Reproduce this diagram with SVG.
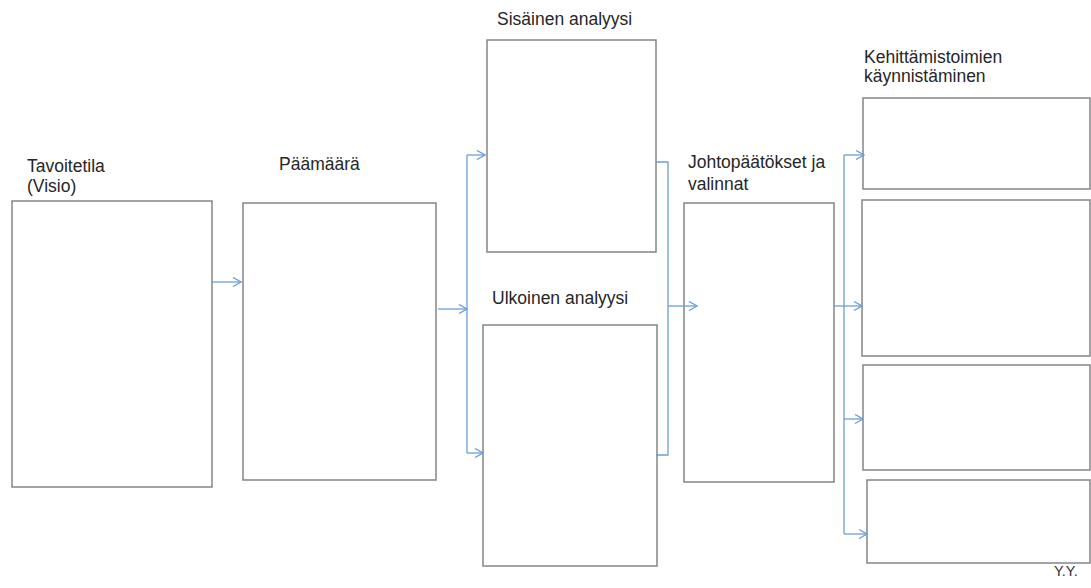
<svg xmlns="http://www.w3.org/2000/svg" width="1091" height="588" viewBox="0 0 1091 588">
<style>
.box{fill:#fff;stroke:#858585;stroke-width:1.5}
.lbl{font-family:"Liberation Sans",Arial,sans-serif;font-size:17.5px;fill:#262626}
.sm{font-family:"Liberation Sans",Arial,sans-serif;font-size:14.5px;fill:#333}
.con{fill:none;stroke:#6a9fd6;stroke-width:1.3}
</style>
<defs>
<marker id="arr" viewBox="0 0 10 10" refX="9" refY="5" markerWidth="10" markerHeight="10" markerUnits="userSpaceOnUse" orient="auto">
<path d="M1,0.5 L9,5 L1,9.5" fill="none" stroke="#6a9fd6" stroke-width="1.3"/>
</marker>
</defs>
<rect width="1091" height="588" fill="#fff"/>
<g id="tavoitetila">
<rect class="box" x="12" y="201" width="200" height="286"/>
<text class="lbl" x="27" y="172">Tavoitetila</text>
<text class="lbl" x="27" y="192">(Visio)</text>
</g>
<g id="paamaara">
<rect class="box" x="243" y="203" width="193" height="277"/>
<text class="lbl" x="279" y="170">Päämäärä</text>
</g>
<g id="sisainen">
<rect class="box" x="487" y="40" width="169" height="212"/>
<text class="lbl" x="497" y="25">Sisäinen analyysi</text>
</g>
<g id="ulkoinen">
<rect class="box" x="483" y="325" width="174" height="241"/>
<text class="lbl" x="492" y="304">Ulkoinen analyysi</text>
</g>
<g id="johtopaatokset">
<rect class="box" x="684" y="203" width="150" height="279"/>
<text class="lbl" x="688" y="168">Johtopäätökset ja</text>
<text class="lbl" x="688" y="190">valinnat</text>
</g>
<g id="kehittamistoimet">
<text class="lbl" x="864" y="63">Kehittämistoimien</text>
<text class="lbl" x="864" y="82">käynnistäminen</text>
</g>
<g id="kehitys1"><rect class="box" x="863" y="98" width="227" height="91"/></g>
<g id="kehitys2"><rect class="box" x="862" y="200" width="228" height="156"/></g>
<g id="kehitys3"><rect class="box" x="863" y="365" width="227" height="105"/></g>
<g id="kehitys4"><rect class="box" x="867" y="480" width="223" height="83"/></g>
<g id="connectors">
<path class="con" d="M212,282 H241" marker-end="url(#arr)"/>
<path class="con" d="M438,309 H467" marker-end="url(#arr)"/>
<path class="con" d="M467,155 V453"/>
<path class="con" d="M467,155 H485" marker-end="url(#arr)"/>
<path class="con" d="M467,453 H483" marker-end="url(#arr)"/>
<path class="con" d="M656,162 H668 V455 H656"/>
<path class="con" d="M668,306 H697" marker-end="url(#arr)"/>
<path class="con" d="M834,306 H862" marker-end="url(#arr)"/>
<path class="con" d="M844,155 V534"/>
<path class="con" d="M844,155 H864" marker-end="url(#arr)"/>
<path class="con" d="M844,419 H863" marker-end="url(#arr)"/>
<path class="con" d="M844,534 H867" marker-end="url(#arr)"/>
</g>
<text class="sm" x="1054" y="576">Y.Y.</text>
</svg>
